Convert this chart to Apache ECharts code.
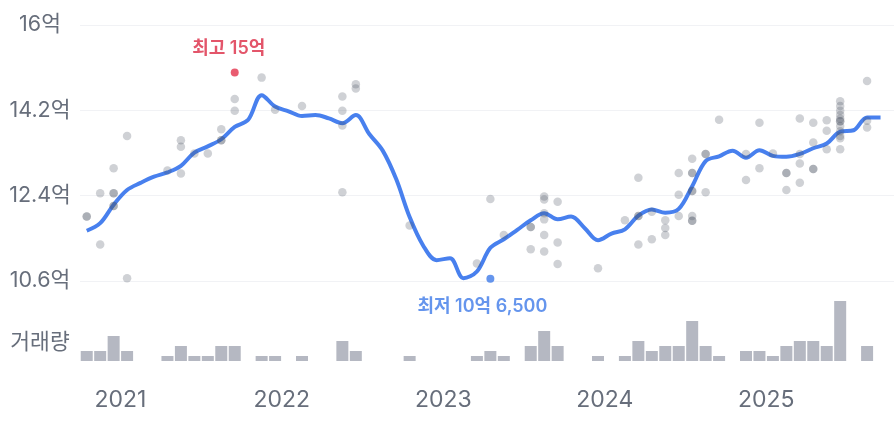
<!DOCTYPE html>
<html><head><meta charset="utf-8">
<script src="https://cdn.jsdelivr.net/npm/echarts@6/dist/echarts.min.js"></script>
<style>html,body{margin:0;padding:0;background:#fff}#c{width:894px;height:432px}</style>
</head><body><div id="c"></div>
<script>
// Months (category timeline), Oct 2020 .. Sep 2025
const months = [
 '2020-10','2020-11','2020-12',
 '2021-01','2021-02','2021-03','2021-04','2021-05','2021-06','2021-07','2021-08','2021-09','2021-10','2021-11','2021-12',
 '2022-01','2022-02','2022-03','2022-04','2022-05','2022-06','2022-07','2022-08','2022-09','2022-10','2022-11','2022-12',
 '2023-01','2023-02','2023-03','2023-04','2023-05','2023-06','2023-07','2023-08','2023-09','2023-10','2023-11','2023-12',
 '2024-01','2024-02','2024-03','2024-04','2024-05','2024-06','2024-07','2024-08','2024-09','2024-10','2024-11','2024-12',
 '2025-01','2025-02','2025-03','2025-04','2025-05','2025-06','2025-07','2025-08','2025-09'
];
// Trend line (억), one value per month
const trendPrices = [
 11.66,11.82,12.21,12.52,12.67,12.80,12.89,13.03,13.31,13.44,13.59,13.85,14.00,14.52,14.28,
 14.18,14.08,14.10,14.03,13.93,14.10,13.70,13.35,12.75,11.95,11.35,11.04,11.08,10.66,10.80,
 11.30,11.48,11.68,11.88,12.03,11.90,11.96,11.72,11.46,11.60,11.69,11.98,12.11,12.04,12.12,
 12.60,13.13,13.23,13.35,13.20,13.36,13.24,13.22,13.28,13.40,13.50,13.75,13.78,14.05,14.05
];
// Monthly transaction counts
const volumes = [
 2,2,5,2,0,0,1,3,1,1,3,3,0,1,1,0,1,0,0,4,2,0,0,0,1,0,0,0,0,1,
 2,1,0,3,6,3,0,0,1,0,1,4,2,3,3,8,3,1,0,2,2,1,3,4,4,3,12,0,3,0
];
// Individual transactions
const tradeMonths = [
 '2020-10','2020-10','2020-11','2020-11','2020-12','2020-12','2020-12','2020-12','2020-12','2021-01','2021-01',
 '2021-04','2021-05','2021-05','2021-05','2021-06','2021-07','2021-08','2021-08','2021-08','2021-09','2021-09','2021-09',
 '2021-11','2021-12','2022-02','2022-05','2022-05','2022-05','2022-05','2022-06','2022-06',
 '2022-10','2023-03','2023-04','2023-04','2023-05','2023-07','2023-07','2023-07',
 '2023-08','2023-08','2023-08','2023-08','2023-08','2023-08','2023-09','2023-09','2023-09',
 '2023-12','2024-02','2024-03','2024-03','2024-03','2024-03','2024-04','2024-04','2024-05','2024-05','2024-05',
 '2024-06','2024-06','2024-06','2024-07','2024-07','2024-07','2024-07','2024-07','2024-07','2024-07','2024-07',
 '2024-08','2024-08','2024-08','2024-09','2024-11','2024-11','2024-12','2024-12','2025-01',
 '2025-02','2025-02','2025-02','2025-03','2025-03','2025-03','2025-03','2025-04','2025-04','2025-04','2025-04',
 '2025-05','2025-05','2025-05',
 '2025-06','2025-06','2025-06','2025-06','2025-06','2025-06','2025-06','2025-06','2025-06','2025-06','2025-06','2025-06',
 '2025-08','2025-08','2025-08'
];
const tradePrices = [
 11.96,11.96,12.45,11.37,12.45,12.45,12.98,12.18,12.18,13.66,10.66,
 12.93,13.57,13.43,12.87,13.29,13.29,13.80,13.57,13.57,15.00,14.44,14.19,
 14.89,14.21,14.29,14.49,14.19,13.88,12.47,14.75,14.66,
 11.77,10.97,10.65,12.33,11.57,11.74,11.74,11.27,
 12.38,12.32,12.03,11.90,11.57,11.22,12.27,11.41,10.96,
 10.87,11.88,12.78,11.97,11.97,11.37,12.06,11.48,11.88,11.72,11.57,
 12.88,12.42,11.97,13.18,12.88,12.88,12.50,12.50,11.97,11.87,11.87,
 13.28,13.28,12.47,14.00,13.28,12.73,13.94,12.98,13.29,
 12.88,12.88,12.52,14.03,13.28,13.08,12.67,13.94,13.52,12.96,12.96,
 13.99,13.77,13.38,
 14.39,14.29,14.19,14.10,14.02,13.97,13.97,13.87,13.76,13.66,13.61,13.38,
 14.82,13.98,13.84
];
const yearLabels = ['2021','2022','2023','2024','2025'];
const priceTicks = [10.6, 12.4, 14.2, 16];

const FONT = 'Inter, "Noto Sans CJK KR", sans-serif';
const GRAY = '#676e7b';
const mid = m => months.indexOf(m) + 0.5;

const trendData = months.map((m, i) => [mid(m), trendPrices[i]]);
const volData = months.map((m, i) => [mid(m), volumes[i]]);
let maxI = 0, minI = 0;
tradePrices.forEach((p, i) => { if (p > tradePrices[maxI]) maxI = i; if (p < tradePrices[minI]) minI = i; });
const dots = [];
tradeMonths.forEach((m, i) => { if (i !== maxI && i !== minI) dots.push([mid(m), tradePrices[i]]); });
const fmtEok = v => {
  const eok = Math.floor(v + 1e-9);
  const man = Math.round((v - eok) * 10000);
  return man > 0 ? eok + '억 ' + man.toLocaleString('en-US') : eok + '억';
};
const yearPos = yearLabels.map(y => months.indexOf(y + '-01'));
const xMax = months.length + 0.5;

const chart = echarts.init(document.getElementById('c'));
chart.setOption({
  animation: false,
  backgroundColor: '#fff',
  grid: [
    { left: 80, right: 0, top: 25, height: 256 },
    { left: 80, right: 0, top: 301, height: 60 }
  ],
  xAxis: [
    { type: 'value', gridIndex: 0, min: 0, max: xMax, show: false },
    { type: 'value', gridIndex: 1, min: 0, max: xMax,
      axisLine: { show: false }, axisTick: { show: false }, splitLine: { show: false },
      axisLabel: { customValues: yearPos, formatter: v => yearLabels[yearPos.indexOf(Math.round(v))] || '',
        fontSize: 23, color: GRAY, fontFamily: FONT, margin: 28 } }
  ],
  yAxis: [
    { type: 'value', gridIndex: 0, min: priceTicks[0], max: priceTicks[priceTicks.length - 1], interval: priceTicks[1] - priceTicks[0],
      axisLine: { show: false }, axisTick: { show: false },
      splitLine: { lineStyle: { color: '#f1f2f5', width: 1 } },
      axisLabel: { formatter: v => (Math.round(v * 10) / 10) + '억', align: 'center', margin: 40,
        fontSize: 21.5, color: GRAY, fontFamily: FONT } },
    { type: 'value', gridIndex: 1, min: 0, max: 12, show: false }
  ],
  graphic: [{ type: 'text', x: 40, y: 343, style: { text: '거래량', fontSize: 21.5, fill: GRAY, fontFamily: FONT,
    textAlign: 'center', textVerticalAlign: 'middle' } }],
  series: [
    { type: 'bar', xAxisIndex: 1, yAxisIndex: 1, data: volData, barWidth: 12,
      itemStyle: { color: '#b5b8c2' }, silent: true },
    { type: 'line', xAxisIndex: 0, yAxisIndex: 0, data: trendData, smooth: 0.35, symbol: 'none',
      lineStyle: { color: '#4880ee', width: 4 }, z: 2 },
    { type: 'scatter', xAxisIndex: 0, yAxisIndex: 0, data: dots, symbolSize: 8.5,
      itemStyle: { color: 'rgba(70,76,92,0.32)' }, z: 3 },
    { type: 'scatter', xAxisIndex: 0, yAxisIndex: 0, data: [[mid(tradeMonths[maxI]), tradePrices[maxI]]], symbolSize: 8,
      itemStyle: { color: '#e3334c' }, z: 4,
      label: { show: true, position: 'top', distance: 11, offset: [-6, 0], formatter: p => '최고 ' + fmtEok(p.value[1]),
        color: '#dc2a45', fontSize: 18, fontWeight: 600, fontFamily: FONT } },
    { type: 'scatter', xAxisIndex: 0, yAxisIndex: 0, data: [[mid(tradeMonths[minI]), tradePrices[minI]]], symbolSize: 8,
      itemStyle: { color: '#3f7be9' }, z: 4,
      label: { show: true, position: 'bottom', distance: 15, offset: [-8, 0], formatter: p => '최저 ' + fmtEok(p.value[1]),
        color: '#3f7be9', fontSize: 18, fontWeight: 600, fontFamily: FONT } }
  ]
});
</script></body></html>
